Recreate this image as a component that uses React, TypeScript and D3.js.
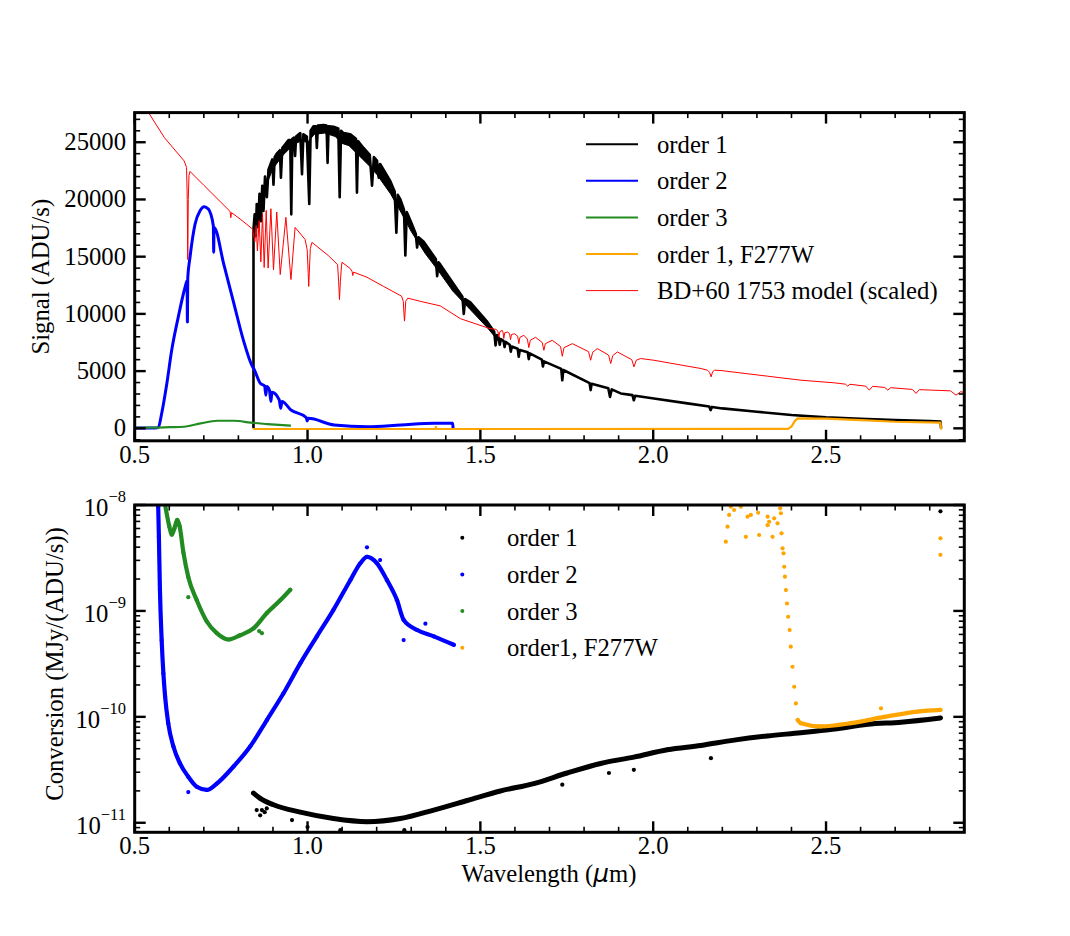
import React from "react";
import * as d3 from "d3";

type P = [number, number];

// ---------- tick labels ----------
const xTickValues = [0.5, 1.0, 1.5, 2.0, 2.5];
const signalTickValues = [0, 5000, 10000, 15000, 20000, 25000];
const convTickExponents = [-11, -10, -9, -8];

// ---------- top panel: signal (ADU/s) vs wavelength (um) ----------
const order1Signal: P[] = [
  [0.8436, 0], [0.8437, 17400], [0.847, 18700], [0.8505, 16800], [0.853, 19600], [0.857, 17600],
  [0.861, 20500], [0.865, 18100], [0.869, 21200], [0.8726, 19000], [0.877, 22000], [0.8824, 20200],
  [0.887, 22600], [0.898, 23500], [0.9015, 21300], [0.905, 23700], [0.911, 24000], [0.92, 24300],
  [0.923, 21900], [0.927, 24500], [0.945, 25200], [0.95, 25200], [0.953, 18700], [0.956, 25300],
  [0.961, 25400], [0.964, 23800], [0.967, 25500], [0.979, 25800], [0.984, 22200], [0.988, 25700],
  [0.998, 25500], [1.005, 19600], [1.009, 26000], [1.0174, 26400], [1.024, 26400], [1.027, 24500],
  [1.03, 26450], [1.046, 26500], [1.055, 26450], [1.058, 23200], [1.061, 26400], [1.075, 26350],
  [1.089, 26200], [1.093, 20200], [1.097, 26000], [1.104, 25800], [1.1237, 25700], [1.14, 25300],
  [1.143, 20600], [1.146, 25100], [1.162, 24500], [1.18, 23900], [1.1866, 21200], [1.192, 23700],
  [1.201, 23400], [1.206, 21900], [1.21, 23100], [1.2396, 21600], [1.252, 20700], [1.257, 17100],
  [1.261, 20400], [1.2686, 20000], [1.279, 19100], [1.283, 15100], [1.287, 18900], [1.2985, 18100],
  [1.313, 17000], [1.317, 15800], [1.321, 16700], [1.336, 16300], [1.371, 14800], [1.375, 13300],
  [1.379, 14500], [1.3844, 14300], [1.423, 12600], [1.448, 11500], [1.452, 10000], [1.456, 11300],
  [1.471, 11000], [1.52, 9300], [1.54, 8450], [1.544, 7250], [1.548, 8150], [1.553, 7900],
  [1.556, 7300], [1.559, 7800], [1.567, 7650], [1.57, 7100], [1.573, 7550], [1.585, 7300],
  [1.588, 6700], [1.591, 7150], [1.608, 6950], [1.611, 6250], [1.614, 6850], [1.637, 6650],
  [1.64, 6050], [1.643, 6550], [1.678, 6000], [1.681, 5400], [1.684, 5850], [1.734, 5200],
  [1.737, 4200], [1.74, 5100], [1.809, 4060], [1.816, 3950], [1.819, 3340], [1.822, 3900],
  [1.87, 3500], [1.875, 2750], [1.88, 3400], [1.906, 3050], [1.94, 2900], [1.944, 2450],
  [1.948, 2850], [2.002, 2610], [2.099, 2180], [2.162, 1900], [2.166, 1590], [2.17, 1870],
  [2.2, 1740], [2.3, 1450], [2.4, 1160], [2.5, 960], [2.6, 840], [2.7, 720], [2.8, 640],
  [2.831, 590], [2.833, 0],
];
// lower edge of the noisy order-1 band
const order1SignalLower: P[] = [
  [0.8437, 16600], [0.86, 19300], [0.88, 21200], [0.9, 22700], [0.93, 23900], [0.96, 24800],
  [0.98, 25100], [1.0, 25000], [1.02, 25700], [1.05, 25800], [1.08, 25500], [1.1, 24900],
  [1.12, 24700], [1.15, 23800], [1.18, 22900], [1.2, 22200], [1.24, 20500], [1.27, 18900],
  [1.3, 17200], [1.34, 15300], [1.38, 13700], [1.42, 12000], [1.47, 10400], [1.52, 8800], [1.55, 7700],
];

const order2Signal: P[] = [
  [0.5, 20], [0.56, 30], [0.568, 60], [0.578, 1300], [0.593, 3920], [0.607, 6820], [0.626, 9720],
  [0.6457, 12330], [0.6515, 12900], [0.6525, 9300], [0.6535, 13150], [0.66, 14950], [0.6747, 17860],
  [0.689, 19010], [0.7008, 19360], [0.713, 19160], [0.7275, 17700], [0.7285, 15380], [0.7295, 17550],
  [0.758, 14300], [0.787, 10900], [0.8146, 7690], [0.839, 5500], [0.8456, 5150], [0.863, 3950],
  [0.876, 3700], [0.8795, 2900], [0.882, 3650], [0.89, 3300], [0.894, 2350], [0.897, 3150],
  [0.918, 2500], [0.9225, 1750], [0.926, 2350], [0.952, 1600], [0.996, 950], [0.999, 650],
  [1.002, 870], [1.077, 290], [1.174, 140], [1.27, 290], [1.367, 435], [1.42, 435], [1.421, 20],
];

const order3Signal: P[] = [
  [0.5, 50], [0.55, 60], [0.6, 100], [0.643, 140], [0.691, 435], [0.739, 660], [0.788, 660],
  [0.836, 490], [0.884, 375], [0.952, 230],
];

const order1F277WSignal: P[] = [
  [0.843, -60], [1.37, -60], [1.371, 120], [1.373, -60], [2.39, -50], [2.4, 150], [2.41, 650],
  [2.418, 870], [2.5, 840], [2.6, 720], [2.7, 575], [2.831, 490], [2.833, -120],
];

const modelSignal: P[] = [
  [0.5, 28700], [0.542, 27500], [0.586, 25400], [0.643, 23370], [0.65, 22800], [0.652, 20000],
  [0.6535, 14750], [0.655, 20000], [0.657, 22100], [0.66, 22450], [0.7, 21240], [0.776, 18950],
  [0.778, 18400], [0.78, 18850], [0.805, 18290], [0.8407, 17420], [0.8476, 16300], [0.8514, 17720],
  [0.855, 15500], [0.86, 18150], [0.865, 14550], [0.8697, 18780], [0.8746, 14060], [0.8804, 19040],
  [0.886, 14000], [0.894, 19190], [0.9015, 13850], [0.911, 18900], [0.921, 13440], [0.9374, 18440],
  [0.952, 13000], [0.964, 17560], [0.993, 16500], [0.999, 15600], [1.002, 13500], [1.0035, 12400],
  [1.005, 13500], [1.008, 15700], [1.0127, 16250], [1.06, 15100], [1.087, 14300], [1.09, 12800],
  [1.0925, 11250], [1.095, 12800], [1.098, 14100], [1.0997, 14510], [1.1237, 13960], [1.129, 13700],
  [1.131, 13350], [1.133, 13650], [1.172, 13200], [1.22, 12400], [1.272, 11550], [1.277, 11100],
  [1.279, 10000], [1.2805, 9370], [1.282, 10000], [1.284, 11100], [1.29, 11375], [1.326, 11100],
  [1.384, 10700], [1.4424, 9580], [1.528, 8710],
  [1.545, 8650], [1.5505, 8500], [1.5535, 8000], [1.5565, 8450],
  [1.5632, 8560], [1.5655, 8400], [1.5678, 7850], [1.5705, 8350],
  [1.5795, 8420], [1.5845, 8250], [1.5872, 7750], [1.59, 8200],
  [1.5988, 8270], [1.608, 8050], [1.6113, 7400], [1.6145, 7950],
  [1.6258, 8130], [1.636, 7800], [1.6402, 7055], [1.6445, 7700],
  [1.6596, 7950], [1.679, 7500], [1.6837, 6820], [1.688, 7400],
  [1.708, 7690], [1.732, 7150], [1.737, 6300], [1.742, 7050],
  [1.766, 7400], [1.813, 6700], [1.819, 5950], [1.825, 6650],
  [1.8384, 6970], [1.871, 6400], [1.877, 5660], [1.883, 6350],
  [1.8963, 6675], [1.938, 6000], [1.9444, 5370], [1.951, 5950],
  [1.9638, 6100], [2.002, 5950], [2.138, 5226], [2.157, 5080], [2.163, 4900], [2.1674, 4500],
  [2.172, 4950], [2.178, 5080], [2.196, 5050], [2.331, 4555], [2.427, 4207], [2.524, 3975],
  [2.556, 3860], [2.5626, 3685], [2.569, 3850], [2.615, 3685], [2.625, 3336], [2.635, 3670],
  [2.67, 3570], [2.6785, 3336], [2.687, 3550], [2.75, 3400], [2.7604, 3050], [2.77, 3380],
  [2.86, 3275], [2.876, 2900], [2.89, 3200], [2.903, 3100],
];

// ---------- bottom panel: log10 conversion (MJy/(ADU/s)) ----------
const order1ConvLog10: P[] = [
  [0.8436, -10.72], [0.863, -10.77], [0.9015, -10.83], [0.979, -10.9], [1.075, -10.96], [1.172, -10.99],
  [1.2686, -10.96], [1.365, -10.88], [1.462, -10.79], [1.558, -10.7], [1.655, -10.63], [1.751, -10.53],
  [1.848, -10.44], [1.944, -10.38], [2.041, -10.31], [2.138, -10.27], [2.234, -10.22], [2.331, -10.18],
  [2.427, -10.15], [2.524, -10.115], [2.62, -10.07], [2.717, -10.05], [2.831, -10.01],
];
const order1ConvOutliers: P[] = [
  [0.853, -10.88], [0.863, -10.93], [0.868, -10.88], [0.876, -10.9], [0.882, -10.865], [0.955, -10.975],
  [1.0, -11.04], [1.095, -11.07], [1.28, -11.07], [1.737, -10.64], [1.872, -10.53], [1.944, -10.5],
  [2.167, -10.39], [2.831, -8.06],
];
const order2ConvLog10: P[] = [
  [0.568, -8.016], [0.57, -8.3], [0.573, -8.8], [0.578, -9.275], [0.583, -9.59], [0.588, -9.81],
  [0.597, -10.06], [0.612, -10.28], [0.631, -10.44], [0.655, -10.565], [0.6796, -10.66], [0.7086, -10.69],
  [0.7375, -10.63], [0.7856, -10.47], [0.834, -10.28], [0.8824, -10.03], [0.93, -9.78], [0.979, -9.495],
  [1.027, -9.24], [1.075, -8.99], [1.1237, -8.71], [1.1527, -8.55], [1.172, -8.49], [1.201, -8.55],
  [1.23, -8.71], [1.259, -8.9], [1.278, -9.085], [1.317, -9.18], [1.365, -9.24], [1.423, -9.32],
];
const order2ConvOutliers: P[] = [
  [1.172, -8.4], [0.655, -10.71], [1.278, -9.275], [1.341, -9.12], [1.21, -8.52],
];
const order3ConvLog10: P[] = [
  [0.588, -8.0], [0.6, -8.2], [0.607, -8.28], [0.615, -8.22], [0.623, -8.14], [0.63, -8.2],
  [0.641, -8.45], [0.655, -8.68], [0.6796, -8.9], [0.7086, -9.1], [0.7375, -9.21], [0.771, -9.27],
  [0.805, -9.23], [0.8436, -9.165], [0.8824, -9.02], [0.921, -8.9], [0.95, -8.8],
];
const order3ConvOutliers: P[] = [[0.655, -8.87], [0.868, -9.21], [0.86, -9.19]];
const f277wConvLog10: P[] = [
  [2.418, -10.03], [2.427, -10.06], [2.485, -10.09], [2.572, -10.06], [2.669, -10.0], [2.765, -9.95],
  [2.831, -9.935],
];
const f277wConvScatter: P[] = [
  [2.21, -8.346], [2.215, -8.205], [2.2196, -8.094], [2.2245, -8.016], [2.234, -8.047], [2.2535, -8.016],
  [2.268, -8.3], [2.273, -8.11], [2.2825, -8.094], [2.3036, -8.073], [2.3065, -8.283], [2.331, -8.11],
  [2.331, -8.19], [2.3355, -8.158], [2.3453, -8.3], [2.35, -8.126], [2.3598, -8.173], [2.3674, -8.031],
  [2.3694, -8.078], [2.3713, -8.267], [2.3742, -8.409], [2.3771, -8.456], [2.379, -8.583], [2.381, -8.677],
  [2.384, -8.803], [2.387, -8.93], [2.3905, -9.055], [2.3946, -9.18], [2.398, -9.338], [2.403, -9.527],
  [2.408, -9.716], [2.4128, -9.873], [2.659, -9.92], [2.831, -8.315], [2.831, -8.47],
];

const topLegend = [
  { label: "order 1", color: "#000000", width: 2 },
  { label: "order 2", color: "#0000ff", width: 2 },
  { label: "order 3", color: "#228b22", width: 2 },
  { label: "order 1, F277W", color: "#ffa500", width: 2 },
  { label: "BD+60 1753 model (scaled)", color: "#ff0000", width: 1 },
];
const bottomLegend = [
  { label: "order 1", color: "#000000" },
  { label: "order 2", color: "#0000ff" },
  { label: "order 3", color: "#228b22" },
  { label: "order1, F277W", color: "#ffa500" },
];

const W = 1070;
const H = 936;
const L = 134.7;
const R = 964.3;
const T1 = 112.6;
const B1 = 440.8;
const T2 = 505;
const B2 = 832.3;
const FF = "'Liberation Serif', 'Times New Roman', Times, serif";
const FS = 24.7;
const MAJ = 11;
const MIN = 5.5;

export default function App() {
  const x = d3.scaleLinear().domain([0.5, 2.9]).range([L, R]);
  const yS = d3.scaleLinear().domain([-1090, 27590]).range([B1, T1]);
  const yC = d3.scaleLog().domain([Math.pow(10, -11.09), 1e-8]).range([B2, T2]);

  const lineS = d3.line<P>().x((d) => x(d[0])).y((d) => yS(d[1]));
  const smoothS = d3.line<P>().x((d) => x(d[0])).y((d) => yS(d[1])).curve(d3.curveMonotoneX);
  const lineC = d3
    .line<P>()
    .x((d) => x(d[0]))
    .y((d) => yC(Math.pow(10, d[1])))
    .curve(d3.curveMonotoneX);

  const bandStart = order1SignalLower[0][0];
  const bandEnd = order1SignalLower[order1SignalLower.length - 1][0];
  const order1BandPoly: P[] = order1Signal
    .filter((d) => d[0] >= bandStart && d[0] <= bandEnd)
    .concat(order1SignalLower.slice().reverse());

  const xMinor = d3.range(6, 30).filter((i) => i % 5 !== 0).map((i) => i / 10);
  const sMinor = d3.range(-1000, 27591, 1000).filter((v) => v % 5000 !== 0);
  const cMinor: number[] = [];
  for (let e = -12; e <= -9; e++) {
    for (let m = 2; m <= 9; m++) {
      const v = m * Math.pow(10, e);
      if (v >= Math.pow(10, -11.09) && v <= 1e-8) cMinor.push(v);
    }
  }

  const xTicks = (top: number, bottom: number, key: string) => (
    <g key={key}>
      {xTickValues.map((v) => (
        <g key={"M" + v}>
          <line x1={x(v)} x2={x(v)} y1={bottom} y2={bottom - MAJ} stroke="#000" strokeWidth={2.4} />
          <line x1={x(v)} x2={x(v)} y1={top} y2={top + MAJ} stroke="#000" strokeWidth={2.4} />
        </g>
      ))}
      {xMinor.map((v) => (
        <g key={"m" + v}>
          <line x1={x(v)} x2={x(v)} y1={bottom} y2={bottom - MIN} stroke="#000" strokeWidth={1.6} />
          <line x1={x(v)} x2={x(v)} y1={top} y2={top + MIN} stroke="#000" strokeWidth={1.6} />
        </g>
      ))}
      {xTickValues.map((v) => (
        <text key={"t" + v} x={x(v)} y={bottom + 22} textAnchor="middle" fontFamily={FF} fontSize={FS}>
          {v.toFixed(1)}
        </text>
      ))}
    </g>
  );

  const yTickLines = (ys: number[], len: number, w: number, key: string) => (
    <g key={key}>
      {ys.map((yy, i) => (
        <g key={i}>
          <line x1={L} x2={L + len} y1={yy} y2={yy} stroke="#000" strokeWidth={w} />
          <line x1={R} x2={R - len} y1={yy} y2={yy} stroke="#000" strokeWidth={w} />
        </g>
      ))}
    </g>
  );

  const dot = (d: P, i: number, color: string, k: string) => (
    <circle key={k + i} cx={x(d[0])} cy={yC(Math.pow(10, d[1]))} r={2.1} fill={color} />
  );

  return (
    <svg
      width={W}
      height={H}
      viewBox={`0 0 ${W} ${H}`}
      style={{ position: "absolute", left: 0, top: 0, background: "#fff" }}
    >
      <defs>
        <clipPath id="clipTop">
          <rect x={L} y={T1} width={R - L} height={B1 - T1} />
        </clipPath>
        <clipPath id="clipBot">
          <rect x={L} y={T2} width={R - L} height={B2 - T2} />
        </clipPath>
      </defs>
      <rect x={0} y={0} width={W} height={H} fill="#fff" />

      {/* ---------- top panel ---------- */}
      <g clipPath="url(#clipTop)" fill="none" strokeLinejoin="round">
        <path d={(lineS(order1BandPoly) || "") + "Z"} fill="#000000" stroke="#000000" strokeWidth={1} />
        <path d={lineS(order1Signal) || ""} stroke="#000000" strokeWidth={2.6} />
        <path d={smoothS(order2Signal) || ""} stroke="#0000ff" strokeWidth={3} />
        <path d={smoothS(order3Signal) || ""} stroke="#228b22" strokeWidth={2.2} />
        <path d={lineS(order1F277WSignal) || ""} stroke="#ffa500" strokeWidth={2.2} />
        <path d={lineS(modelSignal) || ""} stroke="#ff0000" strokeWidth={1} />
      </g>
      {xTicks(T1, B1, "xt1")}
      {yTickLines(signalTickValues.map((v) => yS(v)), MAJ, 2.4, "ysM")}
      {yTickLines(sMinor.map((v) => yS(v)), MIN, 1.6, "ysm")}
      {signalTickValues.map((v) => (
        <text key={"s" + v} x={126} y={yS(v) + 8} textAnchor="end" fontFamily={FF} fontSize={FS}>
          {v}
        </text>
      ))}
      <rect x={L} y={T1} width={R - L} height={B1 - T1} fill="none" stroke="#000" strokeWidth={3} />
      <text
        transform={`translate(48.5, ${(T1 + B1) / 2}) rotate(-90)`}
        textAnchor="middle"
        fontFamily={FF}
        fontSize={FS}
      >
        Signal (ADU/s)
      </text>
      {topLegend.map((d, i) => {
        const yy = 144.2 + i * 36.6;
        return (
          <g key={d.label}>
            <line x1={586} x2={638} y1={yy} y2={yy} stroke={d.color} strokeWidth={d.width} />
            <text x={657} y={yy + 8.5} fontFamily={FF} fontSize={FS}>
              {d.label}
            </text>
          </g>
        );
      })}

      {/* ---------- bottom panel ---------- */}
      <g clipPath="url(#clipBot)" fill="none" strokeLinejoin="round" strokeLinecap="round">
        <path d={lineC(order1ConvLog10) || ""} stroke="#000000" strokeWidth={5} />
        {order1ConvLog10.concat(order1ConvOutliers).map((d, i) => dot(d, i, "#000000", "o1"))}
        <path d={lineC(order2ConvLog10) || ""} stroke="#0000ff" strokeWidth={4.2} />
        {order2ConvLog10.concat(order2ConvOutliers).map((d, i) => dot(d, i, "#0000ff", "o2"))}
        <path d={lineC(order3ConvLog10) || ""} stroke="#228b22" strokeWidth={4.2} />
        {order3ConvLog10.concat(order3ConvOutliers).map((d, i) => dot(d, i, "#228b22", "o3"))}
        <path d={lineC(f277wConvLog10) || ""} stroke="#ffa500" strokeWidth={4.2} />
        {f277wConvLog10.concat(f277wConvScatter).map((d, i) => dot(d, i, "#ffa500", "o4"))}
      </g>
      {xTicks(T2, B2, "xt2")}
      {yTickLines(convTickExponents.map((e) => yC(Math.pow(10, e))), MAJ, 2.4, "ycM")}
      {yTickLines(cMinor.map((v) => yC(v)), MIN, 1.6, "ycm")}
      {convTickExponents.map((e) => (
        <text key={"c" + e} x={126} y={yC(Math.pow(10, e)) + 11} textAnchor="end" fontFamily={FF} fontSize={FS}>
          <tspan>10</tspan>
          <tspan dy={-14} fontSize={16.5}>{"\u2212" + Math.abs(e)}</tspan>
        </text>
      ))}
      <rect x={L} y={T2} width={R - L} height={B2 - T2} fill="none" stroke="#000" strokeWidth={3} />
      <text
        transform={`translate(63, 664) rotate(-90)`}
        textAnchor="middle"
        fontFamily={FF}
        fontSize={FS}
      >
        Conversion (MJy/(ADU/s))
      </text>
      <text x={549} y={882} textAnchor="middle" fontFamily={FF} fontSize={FS}>
        Wavelength (
        <tspan fontFamily="'DejaVu Sans', sans-serif" fontStyle="italic">
          {"\u03bc"}
        </tspan>
        m)
      </text>
      {bottomLegend.map((d, i) => {
        const yy = 537.7 + i * 36.7;
        return (
          <g key={d.label}>
            <circle cx={462.3} cy={yy} r={2} fill={d.color} />
            <text x={507} y={yy + 8.5} fontFamily={FF} fontSize={FS}>
              {d.label}
            </text>
          </g>
        );
      })}
    </svg>
  );
}
